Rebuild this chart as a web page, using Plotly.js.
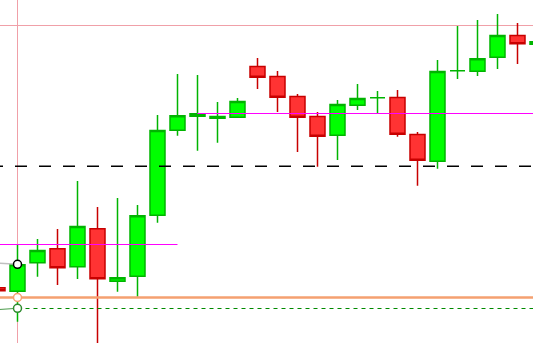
<!DOCTYPE html>
<html>
<head>
<meta charset="utf-8">
<script src="https://cdn.plot.ly/plotly-3.0.1.min.js"></script>
<style>html,body{margin:0;padding:0;background:#fff;}#chart{width:533px;height:343px;}</style>
</head>
<body>
<div id="chart"></div>
<script>
// Candle index (bar number) and OHLC values (price units)
const bars  = [-1, 0, 1, 2, 3, 4, 5, 6, 7, 8, 9, 10, 11, 12, 13, 14, 15, 16, 17, 18, 19, 20, 21, 22, 23, 24, 25, 26];
const open  = [55.2, 51.8, 80.2, 94.2, 76.2, 114.2, 61.8, 66.8, 127.8, 212.8, 226.8, 224.8, 225.8, 276.5, 266.5, 246.5, 226.5, 207.8, 237.8, 245.3, 245.5, 208.5, 181.8, 272.3, 271.8, 285.8, 307.5, 298.8];
const high  = [57.0, 98.0, 104.0, 114.0, 162.0, 136.0, 145.0, 138.0, 228.0, 269.0, 268.0, 241.0, 245.0, 285.0, 272.0, 249.0, 231.0, 243.0, 259.0, 252.0, 253.0, 211.0, 283.0, 317.0, 323.0, 329.0, 320.0, 304.0];
const low   = [50.0, 21.3, 66.3, 58.0, 64.0, -2.0, 51.3, 46.3, 120.3, 207.3, 192.3, 200.3, 225.8, 254.0, 231.0, 191.0, 176.3, 183.0, 233.0, 229.7, 206.3, 157.3, 174.3, 264.0, 267.0, 274.0, 279.0, 296.0];
const close = [52.2, 78.2, 92.5, 75.2, 116.5, 64.2, 65.2, 127.2, 212.5, 227.2, 229.2, 226.5, 241.5, 265.8, 245.8, 225.8, 206.8, 238.5, 244.5, 245.3, 208.8, 182.8, 271.5, 272.3, 284.2, 307.5, 299.2, 301.2];

// Horizontal levels
const pinkLevel = 317.5;
const crossBar = 0;
const blackDashLevel = 176.8;
const orangeLevel = 45.5;
const greenLevel = 34.5;
const magentaLevels = [98.5, 229.5];
const magentaSplitBars = [8, 9];

// Short indicator lines ending on the cursor bar
const grayX = [-1, 0];
const grayY = [79.8, 78.7];
const greenX = [-1, 0];
const greenY = [33.4, 34.7];

const xMin = bars[0] - 1, xMax = bars[bars.length - 1] + 1;

const traces = [
  {
    type: 'candlestick',
    x: bars, open: open, high: high, low: low, close: close,
    increasing: {line: {color: '#00b400', width: 1.5}, fillcolor: '#00ff00'},
    decreasing: {line: {color: '#c80000', width: 1.5}, fillcolor: '#ff3333'},
    whiskerwidth: 0,
    hoverinfo: 'skip'
  },
  {type: 'scatter', mode: 'lines', x: [xMin, magentaSplitBars[0]], y: [magentaLevels[0], magentaLevels[0]],
   line: {color: '#ff00ff', width: 1}, hoverinfo: 'skip'},
  {type: 'scatter', mode: 'lines', x: [magentaSplitBars[1], xMax], y: [magentaLevels[1], magentaLevels[1]],
   line: {color: '#ff00ff', width: 1}, hoverinfo: 'skip'},
  {type: 'scatter', mode: 'lines', x: [-1.325, xMax], y: [blackDashLevel, blackDashLevel],
   line: {color: '#000000', width: 1.5, dash: '12px,12px'}, hoverinfo: 'skip'},
  {type: 'scatter', mode: 'lines', x: [xMin, xMax], y: [orangeLevel, orangeLevel],
   line: {color: '#f5a070', width: 2.5}, hoverinfo: 'skip'},
  {type: 'scatter', mode: 'lines', x: [crossBar, xMax], y: [greenLevel, greenLevel],
   line: {color: '#008a00', width: 1, dash: '4px,4px'}, hoverinfo: 'skip'},
  {type: 'scatter', mode: 'lines', x: greenX, y: greenY,
   line: {color: '#4a9a4a', width: 1}, hoverinfo: 'skip'},
  {type: 'scatter', mode: 'lines', x: grayX, y: grayY,
   line: {color: '#c0c0c0', width: 1.5}, hoverinfo: 'skip'},
  {type: 'scatter', mode: 'markers', x: [grayX[1]], y: [grayY[1]],
   marker: {size: 8, color: '#ffffff', line: {color: '#000000', width: 1.5}}, hoverinfo: 'skip'},
  {type: 'scatter', mode: 'markers', x: [crossBar], y: [orangeLevel],
   marker: {size: 8, color: '#ffffff', line: {color: '#f5a070', width: 1.5}}, hoverinfo: 'skip'},
  {type: 'scatter', mode: 'markers', x: [greenX[1]], y: [greenY[1]],
   marker: {size: 8, color: '#ffffff', line: {color: '#2e8b2e', width: 1.5}}, hoverinfo: 'skip'}
];

const layout = {
  width: 533, height: 343,
  margin: {l: 0, r: 0, t: 0, b: 0, pad: 0},
  paper_bgcolor: '#ffffff', plot_bgcolor: '#ffffff',
  showlegend: false,
  boxgap: 0.25, boxgroupgap: 0,
  xaxis: {range: [-0.875, 25.775], visible: false, rangeslider: {visible: false}, fixedrange: true},
  yaxis: {range: [0, 343], visible: false, fixedrange: true},
  shapes: [
    {type: 'line', layer: 'below', xref: 'paper', x0: 0, x1: 1, yref: 'y', y0: pinkLevel, y1: pinkLevel,
     line: {color: '#f0a0a8', width: 1}},
    {type: 'line', layer: 'below', xref: 'x', x0: crossBar, x1: crossBar, yref: 'paper', y0: 0, y1: 1,
     line: {color: '#f0a0a8', width: 1}}
  ]
};

Plotly.newPlot('chart', traces, layout, {staticPlot: true, displayModeBar: false});
</script>
</body>
</html>
